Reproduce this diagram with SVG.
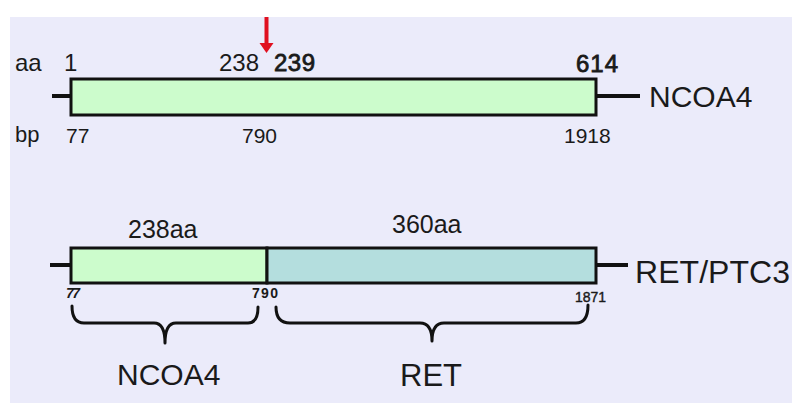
<svg xmlns="http://www.w3.org/2000/svg" width="792" height="403" viewBox="0 0 792 403">
<defs>
<style>
.t{font-family:"Liberation Sans",Arial,sans-serif;fill:#1a1a1a}
.hv{stroke:#1a1a1a;stroke-width:0.8}
.box{stroke:#111;stroke-width:3}
.ln{stroke:#111;stroke-width:4;fill:none}
.br{stroke:#111;stroke-width:3;fill:none;stroke-linecap:round;stroke-linejoin:round}
</style>
</defs>
<rect x="0" y="0" width="792" height="403" fill="#ffffff"/>
<rect x="10" y="17" width="782" height="386" fill="#ebebfa"/>

<g id="connectors">
<line class="ln" x1="52" y1="96" x2="71" y2="96"/>
<line class="ln" x1="596" y1="96" x2="640" y2="96"/>
<line class="ln" x1="50" y1="265" x2="71" y2="265"/>
<line class="ln" x1="596" y1="265" x2="628" y2="265"/>
<line x1="266.5" y1="17" x2="266.5" y2="45" stroke="#e01020" stroke-width="4"/>
<polygon points="259.5,43 273.5,43 266.5,53" fill="#e01020"/>
</g>

<g id="ncoa4">
<rect class="box" x="71" y="79" width="525" height="36" fill="#ccfccc"/>
<text class="t" x="15" y="71" font-size="24">aa</text>
<text class="t" x="64" y="71" font-size="24">1</text>
<text class="t" x="219" y="71" font-size="24" textLength="40">238</text>
<text class="t hv" x="274" y="71" font-size="24" textLength="41">239</text>
<text class="t hv" x="576" y="72" font-size="24" textLength="42">614</text>
<text class="t" x="15" y="142" font-size="22">bp</text>
<text class="t" x="66" y="143" font-size="21">77</text>
<text class="t" x="242" y="143" font-size="21">790</text>
<text class="t" x="564" y="143" font-size="21">1918</text>
<text class="t" x="649" y="107" font-size="30">NCOA4</text>
</g>

<g id="retptc3">
<rect class="box" x="71" y="248" width="196" height="35" fill="#ccfccc"/>
<rect class="box" x="267" y="248" width="329" height="35" fill="#b4dede"/>
<text class="t" x="128" y="238" font-size="25">238aa</text>
<text class="t" x="392" y="233" font-size="25">360aa</text>
<text class="t" x="66" y="298" font-size="14" font-style="italic" font-weight="bold" textLength="14">77</text>
<text class="t" x="252" y="298" font-size="14" font-weight="bold" textLength="26">790</text>
<text class="t hv" x="575" y="302" font-size="14" textLength="31" style="stroke-width:0.4">1871</text>
<text class="t" x="635" y="283" font-size="32" textLength="155">RET/PTC3</text>
</g>

<g id="brace-ncoa4">
<path class="br" d="M72,306 Q72,323 84,323 L154,323 Q165,323 165,343 Q165,323 176,323 L248,323 Q258,323 258,307"/>
<text class="t" x="117" y="385" font-size="30">NCOA4</text>
</g>

<g id="brace-ret">
<path class="br" d="M276,307 Q276,323 290,323 L420,323 Q432,323 432,341 Q432,323 444,323 L576,323 Q588,323 588,305"/>
<text class="t" x="400" y="386" font-size="31">RET</text>
</g>
</svg>
